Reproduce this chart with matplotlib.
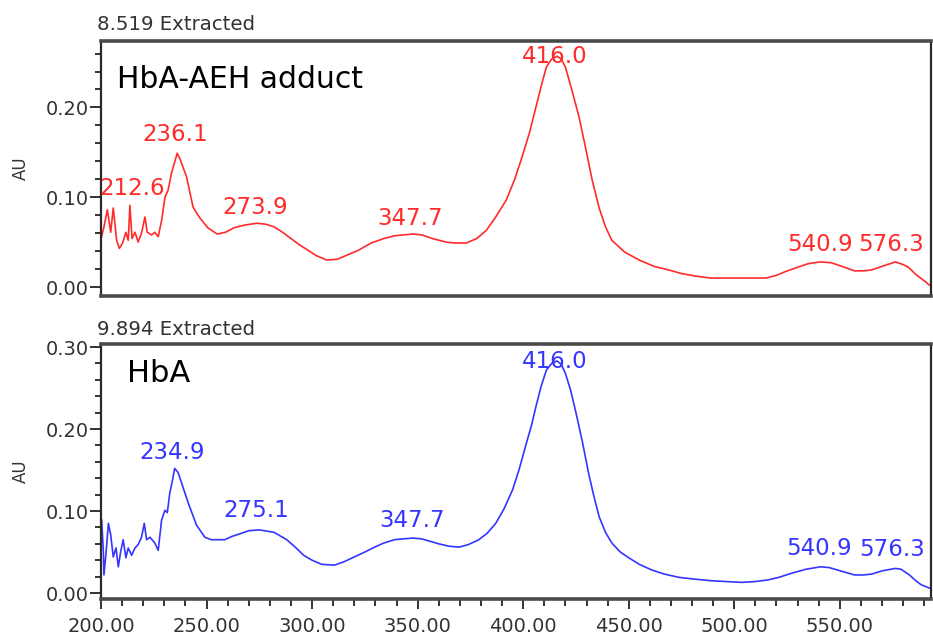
import numpy as np
import matplotlib
matplotlib.use("Agg")
import matplotlib.pyplot as plt
from matplotlib.ticker import MultipleLocator, FormatStrFormatter

# ---------------- data ----------------
adduct_wl = [200.3, 201.4, 203.0, 204.6, 205.8, 207.4, 208.7, 210.2, 211.8, 212.9, 213.7, 214.7,
             216.1, 217.6, 219.2, 220.8, 221.9, 224.0, 225.5, 227.1, 228.7, 230.3, 231.8, 233.4,
             235.0, 236.1, 237.5, 240.5, 243.6, 246.8, 250.6, 255, 259, 263, 268, 273.9, 278,
             282, 286, 290, 294, 298, 302, 307, 312, 317, 322, 328, 334, 339, 343, 347.7, 352,
             357, 363.6, 368, 373, 378, 382.5, 387, 392, 396, 399.5, 403, 406, 409, 411, 413.5,
             416, 418, 420, 423, 426.5, 430, 432.7, 436, 439, 442, 448, 455, 462, 469, 475, 482,
             489, 496, 503, 510, 515, 520, 524, 530, 535, 540.9, 546, 551, 557, 561, 565, 570,
             576.3, 580, 582.5, 586, 590.5, 592.5]
adduct_au = [0.056, 0.067, 0.086, 0.061, 0.088, 0.052, 0.043, 0.049, 0.061, 0.052, 0.091, 0.054,
             0.061, 0.050, 0.060, 0.078, 0.061, 0.058, 0.061, 0.056, 0.074, 0.100, 0.108, 0.127,
             0.140, 0.149, 0.142, 0.123, 0.089, 0.077, 0.066, 0.059, 0.061, 0.066, 0.069, 0.071, 0.070,
             0.067, 0.061, 0.054, 0.047, 0.041, 0.035, 0.030, 0.031, 0.036, 0.041, 0.049, 0.054, 0.057, 0.058, 0.059, 0.058,
             0.054, 0.050, 0.049, 0.049, 0.054, 0.063, 0.078, 0.097, 0.120, 0.145, 0.172, 0.200, 0.228, 0.245, 0.254,
             0.257, 0.254, 0.245, 0.220, 0.189, 0.150, 0.119, 0.088, 0.067, 0.052, 0.039, 0.030, 0.023, 0.019, 0.015, 0.012,
             0.010, 0.010, 0.010, 0.010, 0.010, 0.013, 0.017, 0.022, 0.026, 0.028, 0.027, 0.023, 0.018, 0.018, 0.019, 0.023,
             0.028, 0.025, 0.022, 0.014, 0.006, 0.002]

hba_wl = [200.3, 201.1, 201.4, 202.4, 203.5, 204.6, 205.8, 207.1, 208.2, 209.3, 210.5, 211.8,
          212.9, 214.5, 216.1, 217.6, 219.2, 220.5, 221.6, 223.2, 225.5, 227.1, 228.7, 230.3,
          231.4, 232.6, 233.9, 234.9, 236.5, 238.2, 241.3, 245.2, 249.2, 252.3, 258.6, 262,
          266.7, 270, 275.1, 282, 288, 292, 296, 300, 304.5, 310.6, 315, 320, 325, 329.6, 334,
          339, 343, 347.7, 352, 356, 360, 365, 369.7, 374, 379, 383, 387, 391, 395, 398, 401,
          404, 406, 408.5, 411, 413.5, 416, 418, 420, 422.5, 425, 428, 431, 433.5, 436, 439,
          442, 446, 450, 455, 461, 467, 474, 481, 489, 496, 503.6, 510, 516, 521, 527, 534,
          540.9, 545, 549, 553, 557, 561, 565, 570, 576.3, 579, 583, 586, 588.6, 592.5]
hba_au = [0.089, 0.052, 0.022, 0.049, 0.085, 0.071, 0.044, 0.055, 0.032, 0.050, 0.065, 0.043,
          0.055, 0.046, 0.055, 0.059, 0.068, 0.085, 0.065, 0.068, 0.061, 0.052, 0.089, 0.101,
          0.098, 0.122, 0.138, 0.152, 0.147, 0.134, 0.110, 0.083, 0.068, 0.065, 0.065, 0.069,
          0.073, 0.076, 0.077, 0.074, 0.065, 0.056, 0.046, 0.040, 0.035, 0.034, 0.038, 0.044, 0.050, 0.056, 0.061,
          0.065, 0.066, 0.067, 0.066, 0.063, 0.060, 0.057, 0.056, 0.059, 0.065, 0.073, 0.085, 0.103, 0.126, 0.150, 0.178,
          0.205, 0.227, 0.252, 0.272, 0.280, 0.283, 0.279, 0.268, 0.247, 0.220, 0.185, 0.146, 0.118, 0.093, 0.074,
          0.061, 0.050, 0.043, 0.035, 0.028, 0.023, 0.019, 0.017, 0.015, 0.014, 0.013, 0.014, 0.016, 0.019, 0.024, 0.029,
          0.032, 0.031, 0.028, 0.025, 0.022, 0.022, 0.023, 0.027, 0.030, 0.029, 0.022, 0.015, 0.010, 0.006]

adduct_peaks = [212.6, 236.1, 273.9, 347.7, 416.0, 540.9, 576.3]
hba_peaks = [234.9, 275.1, 347.7, 416.0, 540.9, 576.3]

# label offsets in pixels (layout only)
adduct_offsets = [(5, 50), (-2, 19), (-2, 16), (-3, 16), (-2, 0), (-1, 17), (-4, 17)]
hba_offsets = [(-3, 16), (-3, 19), (-1, 18), (-2, -1), (-2, 18), (-3, 19)]

RED = "#ff2b2b"
BLUE = "#3535ff"
GRAY = "#333333"
FONT = "DejaVu Sans"
plt.rcParams["font.family"] = FONT

fig = plt.figure(figsize=(9.33, 6.37), dpi=100)
W, H = 933, 637
L, R = 101, 931


def make_ax(top_px, bot_px):
    return fig.add_axes([L / W, 1 - bot_px / H, (R - L) / W, (bot_px - top_px) / H])


ax1 = make_ax(41, 296)
ax2 = make_ax(344, 599)


def style(ax, ylim, ymajor, show_x):
    ax.set_xlim(200, 593.2)
    ax.set_ylim(*ylim)
    ax.yaxis.set_major_locator(MultipleLocator(ymajor))
    ax.yaxis.set_minor_locator(MultipleLocator(0.02))
    ax.yaxis.set_major_formatter(FormatStrFormatter("%.2f"))
    ax.xaxis.set_major_locator(MultipleLocator(50))
    ax.xaxis.set_minor_locator(MultipleLocator(10))
    ax.xaxis.set_major_formatter(FormatStrFormatter("%.2f"))
    ax.tick_params(axis="y", which="major", length=8, width=1.4, color=GRAY,
                   labelsize=14, labelcolor=GRAY, pad=1)
    ax.tick_params(axis="y", which="minor", length=4, width=1.4, color=GRAY)
    if show_x:
        ax.tick_params(axis="x", which="major", length=7, width=1.4, color=GRAY,
                       labelsize=14, labelcolor=GRAY, pad=6)
        ax.tick_params(axis="x", which="minor", length=5, width=1.4, color=GRAY)
    else:
        ax.tick_params(axis="x", which="both", bottom=False, labelbottom=False)
    for side in ["top", "bottom"]:
        ax.spines[side].set_linewidth(2.6)
        ax.spines[side].set_color("#4a4a4a")
    for side in ["left", "right"]:
        ax.spines[side].set_linewidth(1.6)
        ax.spines[side].set_color("#2a2a2a")
    ax.set_ylabel("AU", fontsize=12, color=GRAY)
    ax.yaxis.set_label_coords(-0.086, 0.5)


style(ax1, (-0.010, 0.274), 0.10, False)
style(ax2, (-0.0073, 0.3037), 0.10, True)

ax1.plot(adduct_wl, adduct_au, color=RED, lw=1.2)
ax2.plot(hba_wl, hba_au, color=BLUE, lw=1.2)

for pk, off in zip(adduct_peaks, adduct_offsets):
    yv = np.interp(pk, adduct_wl, adduct_au)
    ax1.annotate(f"{pk:.1f}", (pk, yv), xytext=off, textcoords="offset pixels",
                 ha="center", va="center", color=RED, fontsize=16.5)
for pk, off in zip(hba_peaks, hba_offsets):
    yv = np.interp(pk, hba_wl, hba_au)
    ax2.annotate(f"{pk:.1f}", (pk, yv), xytext=off, textcoords="offset pixels",
                 ha="center", va="center", color=BLUE, fontsize=16.5)

ax1.text(0.0193, 0.816, "HbA-AEH adduct", transform=ax1.transAxes, fontsize=21.5,
         color="black", ha="left", va="baseline")
ax2.text(0.031, 0.851, "HbA", transform=ax2.transAxes, fontsize=22,
         color="black", ha="left", va="baseline")

fig.text(97 / W, 1 - 25 / H, "8.519 Extracted", fontsize=14.2, color=GRAY,
         ha="left", va="center")
fig.text(97 / W, 1 - 330 / H, "9.894 Extracted", fontsize=14.2, color=GRAY,
         ha="left", va="center")

fig.savefig("out.png", dpi=100)
